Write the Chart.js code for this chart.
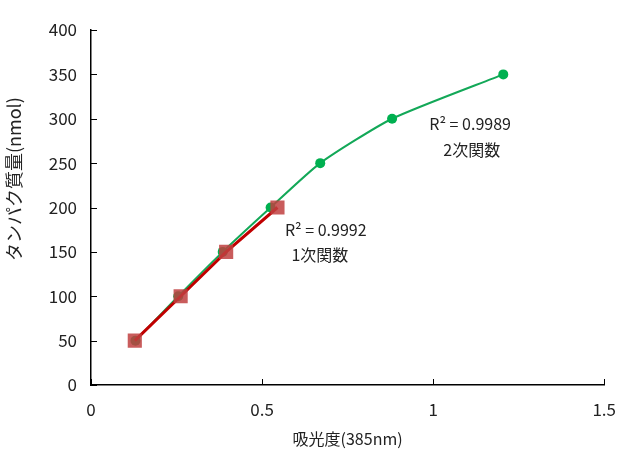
<!DOCTYPE html>
<html>
<head>
<meta charset="utf-8">
<script src="https://cdn.jsdelivr.net/npm/chart.js@4/dist/chart.umd.min.js"></script>
<style>
  html, body { margin: 0; padding: 0; background: #fff; }
  #wrap { width: 630px; height: 467px; }
</style>
</head>
<body>
<div id="wrap"><canvas id="c"></canvas></div>
<script>
// données lues sur l'image
// série verte (courbe lissée, 2次関数)
var absGreen = [0.13, 0.255, 0.385, 0.525, 0.67, 0.88, 1.205];
var massGreen = [50, 100, 150, 200, 250, 300, 350];
// série rouge (droite, 1次関数)
var absRed = [0.128, 0.262, 0.395, 0.545];
var massRed = [50, 100, 150, 200];
// graduations
var xTicks = [0, 0.5, 1, 1.5];
var yTicks = [0, 50, 100, 150, 200, 250, 300, 350, 400];
// textes R² (position en unités des axes)
var noteTexts = ["R² = 0.9992", "1次関数", "R² = 0.9989", "2次関数"];
var noteX = [0.686, 0.669, 1.108, 1.113];
var noteY = [174.5, 146.5, 294, 265];
var yTitle = "タンパク質量(nmol)";

var FONT = "'Noto Sans CJK JP', 'Noto Sans', sans-serif";

function toPoints(xs, ys) {
    var pts = [];
    for (var i = 0; i < xs.length; i++) {
        pts.push({ x: xs[i], y: ys[i] });
    }
    return pts;
}

// petites graduations vers l'intérieur + annotations + titre Y
var extras = {
    id: 'extras',
    afterDraw: function(chart) {
        var ctx = chart.ctx;
        var xs = chart.scales.x, ys = chart.scales.y;
        ctx.save();
        ctx.strokeStyle = '#000';
        ctx.lineWidth = 1;
        for (var i = 0; i < yTicks.length; i++) {
            var py = Math.round(ys.getPixelForValue(yTicks[i])) + 0.5;
            ctx.beginPath();
            ctx.moveTo(xs.left, py);
            ctx.lineTo(xs.left + 6, py);
            ctx.stroke();
        }
        for (var j = 0; j < xTicks.length; j++) {
            var px = Math.round(xs.getPixelForValue(xTicks[j])) + 0.5;
            ctx.beginPath();
            ctx.moveTo(px, ys.bottom);
            ctx.lineTo(px, ys.bottom - 6);
            ctx.stroke();
        }
        ctx.fillStyle = '#222';
        ctx.textAlign = 'center';
        ctx.textBaseline = 'middle';
        ctx.font = '16px ' + FONT;
        for (var k = 0; k < noteTexts.length; k++) {
            ctx.fillText(noteTexts[k], xs.getPixelForValue(noteX[k]), ys.getPixelForValue(noteY[k]));
        }
        // titre de l'axe Y (un peu au-dessus du centre, comme l'original)
        ctx.translate(14, ys.getPixelForValue(232));
        ctx.rotate(-Math.PI / 2);
        ctx.font = '18px ' + FONT;
        ctx.fillText(yTitle, 0, 0);
        ctx.restore();
    }
};

var myChart = new Chart(document.getElementById('c'), {
    type: 'scatter',
    data: {
        datasets: [{
            label: '1次関数',
            data: toPoints(absRed, massRed),
            showLine: true,
            borderColor: '#C00000',
            borderWidth: 3,
            tension: 0,
            pointStyle: 'rect',
            pointRadius: 10,
            pointHoverRadius: 10,
            pointBackgroundColor: 'rgba(192, 64, 64, 0.85)',
            pointBorderWidth: 0,
            order: 0
        }, {
            label: '2次関数',
            data: toPoints(absGreen, massGreen),
            showLine: true,
            borderColor: '#13A858',
            borderWidth: 2,
            tension: 0.2,
            pointStyle: 'circle',
            pointRadius: 5,
            pointHoverRadius: 5,
            pointBackgroundColor: '#00B050',
            pointBorderWidth: 0,
            order: 1
        }]
    },
    options: {
        responsive: true,
        maintainAspectRatio: false,
        animation: false,
        layout: { padding: { top: 30, right: 23, left: 0, bottom: 14 } },
        plugins: {
            legend: { display: false },
            tooltip: { enabled: false }
        },
        scales: {
            x: {
                type: 'linear',
                min: 0,
                max: 1.5,
                afterFit: function(s) { s.height = 68; },
                afterBuildTicks: function(s) { s.ticks = xTicks.map(function(v) { return { value: v }; }); },
                grid: { display: false, drawTicks: false },
                border: { display: true, color: '#000', width: 1.5 },
                ticks: {
                    padding: 14,
                    color: '#222',
                    font: { family: FONT, size: 17 },
                    maxRotation: 0,
                    callback: function(v) { return String(v); }
                },
                title: {
                    display: true,
                    text: '吸光度(385nm)',
                    color: '#222',
                    font: { family: FONT, size: 16 },
                    padding: { top: 8 }
                }
            },
            y: {
                type: 'linear',
                min: 0,
                max: 400,
                afterFit: function(s) { s.width = 91; },
                afterBuildTicks: function(s) { s.ticks = yTicks.map(function(v) { return { value: v }; }); },
                grid: { display: false, drawTicks: false },
                border: { display: true, color: '#000', width: 1.5 },
                ticks: {
                    padding: 14,
                    color: '#222',
                    font: { family: FONT, size: 17 }
                },
                title: { display: false }
            }
        }
    },
    plugins: [extras]
});
</script>
</body>
</html>
